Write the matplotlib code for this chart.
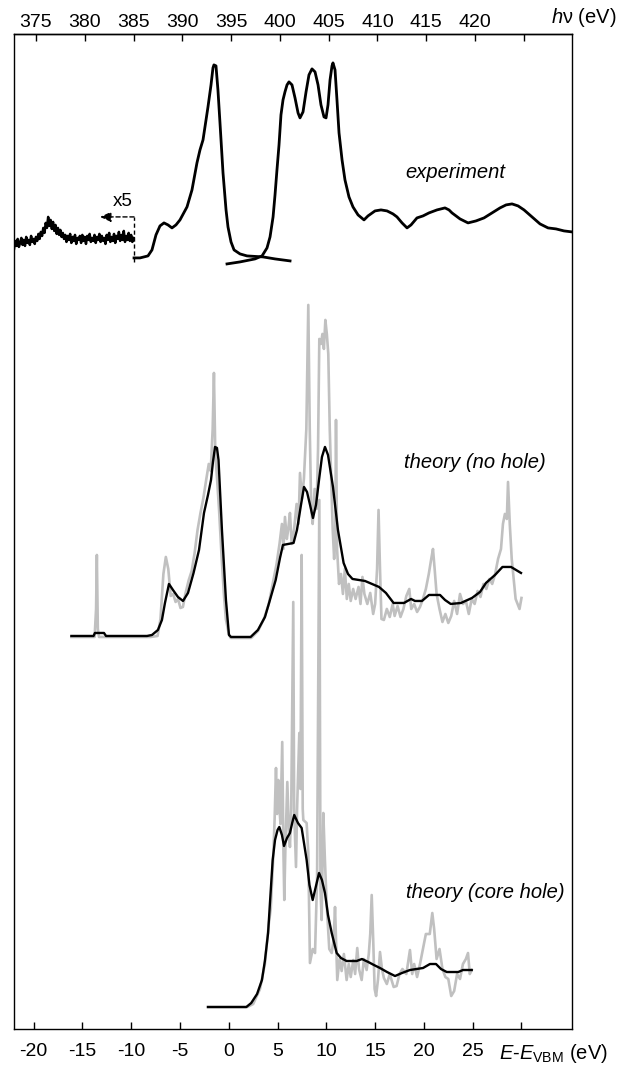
import numpy as np
import matplotlib.pyplot as plt

plt.rcParams['font.family'] = ['Liberation Sans', 'DejaVu Sans']
plt.rcParams['mathtext.fontset'] = 'custom'
plt.rcParams['mathtext.rm'] = 'Liberation Sans'
plt.rcParams['mathtext.it'] = 'Liberation Sans:italic'

# photon energy that corresponds to E = E_VBM
HV_OFFSET = 394.76

# --- experiment (photon energy in eV, intensity in arb. units incl. offset)
noise_hv = np.linspace(372.75, 385.0, 99)   # x5 region
noise_int = [78.0, 78.8, 78.3, 79.0, 78.2, 78.6, 79.1, 78.4, 78.9, 78.3,
             79.2, 78.6, 78.9, 78.4, 79.3, 78.7, 79.0, 78.5, 79.2,
             78.8, 79.5, 79.0, 79.7, 79.3, 80.1, 79.6, 80.6, 80.1, 81.2,
             80.3, 80.9, 80.0, 80.7, 79.8, 80.4, 79.5, 80.1, 79.4, 79.9,
             79.2, 79.6,
             79.0, 79.4, 78.7, 79.3, 78.9, 79.5, 78.6, 79.2, 78.8, 79.4,
             78.5, 79.1, 78.9, 79.3, 78.6, 79.4, 78.8, 79.2, 78.5, 79.3,
             78.9, 79.5, 78.7, 79.1, 78.8, 79.4, 78.6, 79.2, 78.9, 79.5,
             78.7, 79.3, 78.8, 79.1, 78.5, 79.4, 78.9, 79.6, 78.7, 79.2,
             78.8, 79.5, 78.6, 79.3, 79.0, 79.7, 78.8, 79.4, 78.9, 79.8,
             78.7, 79.3, 78.9, 79.6, 78.8, 79.4, 78.7, 79.1]

emis_hv = [385.05, 385.66, 386.48, 386.89, 387.30, 387.71, 388.12, 388.53,
           388.94, 389.35, 389.76, 390.48, 390.99, 391.50, 391.81, 392.12,
           392.43, 392.63, 392.94, 393.14, 393.24, 393.45, 393.65, 393.86,
           394.17, 394.48, 394.68, 394.99, 395.30, 395.91, 396.63, 398.27,
           399.50, 401.04]
emis_int = [77.1, 77.1, 77.3, 77.9, 79.4, 80.3, 80.6, 80.4, 80.1, 80.4,
            80.9, 82.2, 83.9, 86.6, 87.9, 88.9, 90.9, 92.2, 94.4, 96.1,
            96.4, 96.3, 93.9, 90.6, 85.6, 81.9, 80.2, 78.7, 77.9, 77.5,
            77.3, 77.2, 77.0, 76.8]

abs_hv = [394.58, 395.91, 397.45, 398.17, 398.68, 398.99, 399.30, 399.50,
          399.70, 399.91, 400.11, 400.32, 400.52, 400.73, 400.93, 401.24,
          401.55, 401.86, 402.06, 402.37, 402.68, 402.98, 403.29, 403.60,
          403.91, 404.21, 404.52, 404.73, 404.93, 405.14, 405.34, 405.44,
          405.65, 405.85, 406.06, 406.37, 406.67, 407.08, 407.49, 408.01,
          408.62, 409.03, 409.75, 410.36, 410.98, 411.59, 412.00, 412.52,
          413.03, 413.44, 414.05, 414.67, 415.28, 416.10, 416.92, 417.33,
          417.64, 418.46, 419.28, 420.10, 420.92, 421.74, 422.56, 423.18,
          423.79, 424.41, 425.02, 425.84, 426.66, 427.48, 428.30, 429.12,
          429.94]
abs_int = [76.5, 76.7, 77.0, 77.3, 78.1, 79.2, 81.2, 83.4, 85.9, 88.4,
           91.4, 92.9, 93.7, 94.4, 94.7, 94.4, 93.1, 91.6, 91.1, 91.7,
           93.7, 95.4, 96.0, 95.7, 94.4, 92.4, 91.2, 91.1, 92.4, 94.9,
           96.3, 96.6, 95.9, 92.9, 89.6, 86.9, 84.9, 83.2, 82.2, 81.4,
           80.9, 81.3, 81.8, 81.9, 81.8, 81.5, 81.2, 80.6, 80.1, 80.4,
           81.1, 81.3, 81.6, 81.9, 82.1, 81.9, 81.6, 81.0, 80.6, 80.8,
           81.1, 81.6, 82.1, 82.4, 82.5, 82.3, 81.9, 81.2, 80.5, 80.1,
           80.0, 79.8, 79.7]

# --- theory without core hole (E - E_VBM in eV)
nohole_e = [-16.13, -13.86, -13.72, -12.79, -12.58, -8.38, -7.87, -7.26,
            -6.85, -6.54, -6.13, -5.72, -5.21, -4.69, -4.18, -3.61, -3.05,
            -2.54, -2.13, -1.82, -1.62, -1.41, -1.21, -1.05, -0.70, -0.29,
            0.02, 0.23, 2.24, 2.99, 3.71, 4.22, 4.81, 5.25, 5.55, 6.64, 6.99,
            7.40, 7.71, 8.02, 8.33, 8.63, 8.94, 9.25, 9.55, 9.86, 10.17,
            10.68, 11.19, 11.77, 12.22, 12.68, 13.96, 15.40, 16.11, 16.89,
            17.96, 18.68, 19.09, 19.80, 20.52, 21.65, 22.16, 22.75, 23.80,
            24.93, 25.75, 26.36, 27.29, 28.05, 28.93, 29.44, 29.95]
nohole_int = [39.3, 39.3, 39.6, 39.6, 39.3, 39.3, 39.4, 39.9, 40.9, 42.6,
              44.5, 43.9, 43.2, 42.8, 43.6, 45.6, 47.9, 51.6, 53.4, 54.9,
              56.7, 58.2, 58.1, 56.9, 49.9, 42.9, 39.4, 39.2, 39.2, 39.9,
              41.2, 42.9, 44.9, 47.1, 48.4, 48.6, 49.9, 52.4, 54.2, 53.7,
              52.4, 51.1, 52.4, 54.9, 57.2, 58.2, 57.4, 54.2, 49.9, 46.6,
              45.5, 45.0, 44.8, 44.2, 43.6, 42.6, 42.6, 43.0, 42.8, 42.8,
              43.4, 43.4, 42.9, 42.5, 42.6, 43.1, 43.7, 44.6, 45.4, 46.2,
              46.2, 45.9, 45.6]

nohole_raw_e = [-16.13, -13.75, -13.6, -13.52, -13.42, -13.3, -8.0, -7.3,
                -7.0, -6.7, -6.45, -6.2, -5.95, -5.7, -5.45, -5.2, -4.95,
                -4.7, -4.45, -4.1, -3.8, -3.5, -3.2, -2.9, -2.6, -2.3, -2.05,
                -1.85, -1.65, -1.52, -1.38, -1.2, -1.0, -0.75, -0.5, -0.3,
                0.0, 0.2, 2.3, 3.0, 3.6, 4.1, 4.5, 4.9, 5.2, 5.45, 5.6, 5.76,
                5.95, 6.1, 6.27, 6.45, 6.7, 6.95, 7.15, 7.3, 7.5, 7.7, 7.95,
                8.15, 8.3, 8.45, 8.6, 8.8, 9.0, 9.15, 9.28, 9.45, 9.6, 9.75,
                9.9, 10.05, 10.2, 10.35, 10.5, 10.65, 10.8, 10.92, 10.99,
                11.1, 11.3, 11.5, 11.7, 11.9, 12.1, 12.3, 12.5, 12.75, 13.0,
                13.3, 13.5, 13.7, 13.9, 14.2, 14.5, 14.8, 15.0, 15.2, 15.35,
                15.5, 15.65, 15.9, 16.2, 16.5, 16.8, 17.0, 17.3, 17.6, 17.9,
                18.2, 18.5, 18.7, 19.0, 19.3, 19.6, 19.9, 20.2, 20.5, 20.75,
                20.93, 21.1, 21.3, 21.6, 21.9, 22.2, 22.5, 22.8, 23.1, 23.4,
                23.7, 24.0, 24.3, 24.6, 24.9, 25.2, 25.5, 25.8, 26.1, 26.4,
                26.7, 27.0, 27.3, 27.6, 27.9, 28.1, 28.3, 28.5, 28.62, 28.8,
                29.0, 29.2, 29.4, 29.6, 29.8, 30.0]
nohole_raw_int = [39.2, 39.2, 42.0, 47.4, 40.0, 39.2, 39.2, 39.3,
                  41.0, 45.5, 47.2, 46.0, 43.3, 43.5, 42.7, 43.0, 42.1,
                  42.2, 43.5, 44.9, 45.8, 47.6, 49.9, 51.6, 53.1, 55.0, 56.5,
                  55.8, 60.0, 65.6, 57.5, 55.0, 52.0, 47.5, 43.5, 41.0,
                  39.5, 39.1, 39.1, 39.8, 41.0, 42.5, 44.5, 46.5, 48.5, 50.5, 48.0, 51.2,
                  49.0, 50.0, 51.6, 48.5, 50.0, 52.5, 50.5, 55.6, 53.0, 55.0, 60.0,
                  72.4, 60.0, 52.0, 50.5, 54.0, 52.0, 58.0, 69.0, 68.5, 69.5, 68.0,
                  70.9, 69.5, 67.5, 60.0, 55.0, 50.0, 47.0, 50.0, 60.9,
                  48.0, 44.5, 45.5, 43.5, 46.0, 43.0, 44.5, 42.8, 44.0, 43.0,
                  44.2, 42.5, 45.2, 43.5, 42.5, 43.6, 41.5, 42.5, 46.0, 51.9,
                  46.0, 41.0, 40.9, 42.0, 41.2, 42.5, 41.3, 42.3, 41.2, 42.0,
                  43.3, 44.0, 42.0, 42.5, 41.7, 42.2, 43.0, 44.0, 45.5, 47.0,
                  48.0, 46.0, 43.5, 42.0, 40.7, 41.5, 40.6, 41.3, 42.8, 41.5,
                  43.5, 42.5, 42.8, 41.5, 43.0, 42.5, 43.8, 43.2, 44.5, 44.0,
                  45.0, 44.5, 45.5, 47.0, 48.0, 50.5, 51.5, 51.0, 54.7, 50.5,
                  47.0, 45.0, 43.0, 42.5, 42.0, 43.1]

# --- theory with core hole
core_e = [-2.13, 1.8, 2.3, 2.9, 3.4, 3.7, 4.03, 4.22, 4.50, 4.74, 5.0, 5.18,
          5.45, 5.66, 5.97, 6.27, 6.5, 6.71, 7.09, 7.47, 7.71, 7.98, 8.27,
          8.60, 8.89, 9.25, 9.55, 9.86, 10.17, 10.55, 11.06, 11.50, 12.08,
          13.11, 13.65, 14.30, 14.88, 15.50, 16.22, 17.04, 17.75, 18.57,
          19.91, 20.62, 21.24, 21.75, 22.34, 23.52, 24.0, 24.90]
core_int = [2.2, 2.2, 2.6, 3.5, 4.9, 6.8, 9.6, 12.6, 16.9, 18.9, 19.9, 20.2,
            19.4, 18.3, 19.1, 19.6, 20.6, 21.4, 20.6, 20.1, 18.6, 16.9, 14.4,
            12.9, 14.1, 15.6, 14.9, 13.6, 11.4, 9.6, 7.6, 7.1, 6.8,
            6.8, 7.0, 6.7, 6.4, 6.1, 5.7, 5.3, 5.6, 5.9,
            6.1, 6.5, 6.5, 6.0, 5.7, 5.7, 5.9, 5.9]

core_raw_e = [-2.13, 1.9, 2.5, 3.2, 3.7, 4.1, 4.3, 4.55, 4.7, 4.84, 4.95,
              5.08, 5.2, 5.3, 5.48, 5.6, 5.69, 5.8, 6.0, 6.15, 6.27, 6.4,
              6.61, 6.7, 6.89, 7.0, 7.23, 7.35, 7.47, 7.58, 7.64, 7.98, 8.15,
              8.32, 8.6, 8.84, 9.05, 9.28, 9.4, 9.52, 9.69, 9.85, 10.03, 10.3,
              10.55, 10.75, 10.89, 11.12, 11.35, 11.57, 11.8, 12.08, 12.3,
              12.5, 12.76, 12.95, 13.17, 13.35, 13.62, 13.85, 14.13, 14.35,
              14.5, 14.65, 14.8, 14.95, 15.1, 15.3, 15.5, 15.7, 15.9, 16.2,
              16.5, 16.9, 17.2, 17.5, 17.8, 18.2, 18.57, 18.8, 19.0, 19.3,
              19.6, 19.9, 20.2, 20.6, 20.86, 21.05, 21.3, 21.6, 21.9, 22.2,
              22.5, 22.8, 23.1, 23.4, 23.7, 24.0, 24.3, 24.52, 24.7, 24.9]
core_raw_int = [2.2, 2.2, 2.5, 4.0, 6.5, 10.5, 12.0, 17.0, 21.0, 26.1, 21.5,
                24.9, 22.0, 20.5, 28.7, 18.0, 12.9, 18.0, 24.7, 20.0, 18.2, 22.0,
                42.7, 22.0, 16.2, 22.0, 29.6, 24.0, 47.4, 22.0, 20.9, 20.6, 17.6,
                6.6, 8.0, 7.6, 15.0, 52.9, 14.0, 10.9, 21.6, 17.0, 12.6, 8.0,
                7.6, 9.0, 12.2, 4.9, 7.0, 5.8, 7.5, 4.9, 6.5,
                5.2, 6.9, 5.5, 8.1, 6.0, 4.9, 7.0, 5.9, 7.5,
                9.5, 13.4, 9.0, 4.0, 3.3, 5.0, 7.7, 6.0, 5.1, 4.5,
                5.5, 4.2, 4.3, 5.5, 6.0, 5.5, 7.9, 5.5, 6.5, 5.2,
                6.5, 8.0, 9.5, 9.5, 11.6, 10.0, 7.0, 8.0, 6.0, 5.2,
                5.0, 3.3, 3.8, 5.5, 5.0, 6.5, 7.0, 7.6, 5.5, 5.9]

GRAY = '#c0c0c0'

fig = plt.figure(figsize=(6.23, 10.68), dpi=100)
ax = fig.add_axes([0.0225, 0.0365, 0.8952, 0.9313])

# raw theory spectra in gray, broadened ones in black on top
ax.plot(nohole_raw_e, nohole_raw_int, color=GRAY, lw=1.9)
ax.plot(core_raw_e, core_raw_int, color=GRAY, lw=1.9)
ax.plot(nohole_e, nohole_int, color='black', lw=1.7)
ax.plot(core_e, core_int, color='black', lw=1.7)

# experiment, plotted against E - E_VBM
ax.plot(noise_hv - HV_OFFSET, noise_int, color='black', lw=1.8)
ax.plot(np.array(emis_hv) - HV_OFFSET, emis_int, color='black', lw=2.0)
ax.plot(np.array(abs_hv) - HV_OFFSET, abs_int, color='black', lw=2.0)

# x5 marker
x5_e = 385.05 - HV_OFFSET
ax.plot([x5_e, x5_e], [76.7, 81.2], color='black', lw=1.0, ls=(0, (3, 2)))
ax.annotate('', xy=(381.56 - HV_OFFSET, 81.2), xytext=(x5_e, 81.2),
            arrowprops=dict(arrowstyle='-|>,head_length=0.55,head_width=0.25',
                            color='black', lw=1.0, ls=(0, (3, 2)),
                            mutation_scale=12, shrinkA=0, shrinkB=0))
ax.text(-10.9, 82.7, 'x5', fontsize=13.5, ha='center', va='center')

# labels of the spectra
ax.text(23.2, 85.6, 'experiment', fontsize=14.5, style='italic',
        ha='center', va='center')
ax.text(25.2, 56.6, 'theory (no hole)', fontsize=14.5, style='italic',
        ha='center', va='center')
ax.text(26.3, 13.7, 'theory (core hole)', fontsize=14.5, style='italic',
        ha='center', va='center')

ax.set_xlim(-22.01, 35.15)
ax.set_ylim(0, 99.45)
ax.set_yticks([])
ax.set_xticks(range(-20, 35, 5))
ax.set_xticklabels([str(v) for v in range(-20, 30, 5)] + [''])
ax.tick_params(axis='x', direction='in', length=5, width=1, pad=10,
               labelsize=14)
for sp in ax.spines.values():
    sp.set_linewidth(1.0)

top = ax.secondary_xaxis('top', functions=(lambda e: e + HV_OFFSET,
                                           lambda h: h - HV_OFFSET))
top.set_xticks(range(375, 430, 5))
top.set_xticklabels([str(v) for v in range(375, 425, 5)] + [''])
top.tick_params(direction='in', length=5, width=1, pad=2.5, labelsize=14)
top.spines['top'].set_linewidth(1.0)

fig.text(0.99, 0.984, r'$h$ν (eV)', fontsize=14.5, ha='right', va='center')
fig.text(0.975, 0.014, r'$E$-$E_{\mathrm{VBM}}$ (eV)', fontsize=14.5,
         ha='right', va='center')

fig.savefig('out.png', dpi=100)
